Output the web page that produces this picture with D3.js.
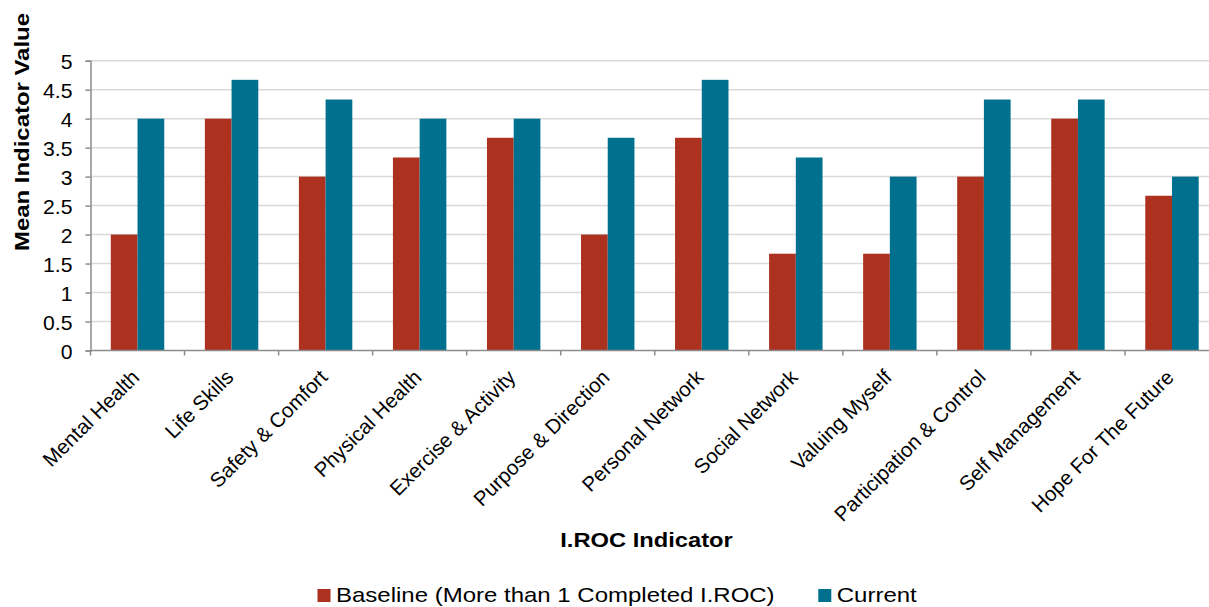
<!DOCTYPE html>
<html>
<head>
<meta charset="utf-8">
<script src="https://cdn.jsdelivr.net/npm/d3@7"></script>
<style>
  html, body { margin: 0; padding: 0; background: #fff; }
  svg { display: block; font-family: "Liberation Sans", Arial, sans-serif; }
</style>
</head>
<body>
<svg id="chart" width="1209" height="607"></svg>
<script>
// I.ROC indicator means: baseline vs current
const categories = [
  "Mental Health", "Life Skills", "Safety & Comfort", "Physical Health",
  "Exercise & Activity", "Purpose & Direction", "Personal Network",
  "Social Network", "Valuing Myself", "Participation & Control",
  "Self Management", "Hope For The Future"
];
const baseline = [2, 4, 3, 3.33, 3.67, 2, 3.67, 1.67, 1.67, 3, 4, 2.67];
const current  = [4, 4.67, 4.33, 4, 4, 3.67, 4.67, 3.33, 3, 4.33, 4.33, 3];
const yTicks = [0, 0.5, 1, 1.5, 2, 2.5, 3, 3.5, 4, 4.5, 5];
const seriesNames = ["Baseline (More than 1 Completed I.ROC)", "Current"];
const seriesColors = ["#ad311f", "#00708f"];

const svg = d3.select("#chart");
const plotLeft = 90.5, plotRight = 1219, plotTop = 60.7, plotBottom = 350.5;

const x = d3.scaleBand().domain(categories).range([plotLeft, plotRight]).padding(0);
const inner = d3.scaleBand().domain([0, 1]).range([0, x.bandwidth()]).paddingInner(0).paddingOuter(0.76);
const y = d3.scaleLinear().domain([0, 5]).range([plotBottom, plotTop]);

// gridlines
svg.append("g")
  .selectAll("line")
  .data(yTicks.filter(d => d > 0))
  .join("line")
  .attr("x1", plotLeft).attr("x2", plotRight)
  .attr("y1", d => y(d)).attr("y2", d => y(d))
  .attr("stroke", "#d9d9d9").attr("stroke-width", 1.5);

// bars
const rows = categories.map((c, i) => ({ c, vals: [baseline[i], current[i]] }));
const groups = svg.append("g").selectAll("g")
  .data(rows).join("g")
  .attr("transform", d => `translate(${x(d.c)},0)`);
groups.selectAll("rect")
  .data(d => d.vals.map((v, k) => ({ v, k })))
  .join("rect")
  .attr("x", d => inner(d.k))
  .attr("width", inner.bandwidth())
  .attr("y", d => y(d.v))
  .attr("height", d => y(0) - y(d.v))
  .attr("fill", d => seriesColors[d.k]);

// y axis
const yAxis = svg.append("g")
  .attr("transform", `translate(${plotLeft},0)`)
  .call(d3.axisLeft(y).tickValues(yTicks).tickFormat(d3.format("")).tickSize(5).tickPadding(0));
yAxis.select(".domain").attr("stroke", "#8c8c8c").attr("stroke-width", 1.5);
yAxis.selectAll(".tick line").attr("stroke", "#8c8c8c").attr("stroke-width", 1.5);
yAxis.selectAll(".tick text")
  .attr("x", null).attr("dy", null)
  .attr("transform", "translate(-18,8) scale(1.06,1)")
  .attr("font-size", 20).attr("fill", "#000")
  .style("font-family", "'Liberation Sans', Arial, sans-serif");

// x axis with ticks on category boundaries
const xAxisG = svg.append("g");
xAxisG.append("line")
  .attr("x1", plotLeft).attr("x2", plotRight)
  .attr("y1", plotBottom).attr("y2", plotBottom)
  .attr("stroke", "#8c8c8c").attr("stroke-width", 1.5);
xAxisG.selectAll("line.tk")
  .data(categories)
  .join("line").attr("class", "tk")
  .attr("x1", d => x(d)).attr("x2", d => x(d))
  .attr("y1", plotBottom).attr("y2", plotBottom + 5)
  .attr("stroke", "#8c8c8c").attr("stroke-width", 1.5);

// rotated category labels
xAxisG.selectAll("text")
  .data(categories)
  .join("text")
  .attr("transform", d => `translate(${x(d) + x.bandwidth() / 2 - 2},${plotBottom + 23}) rotate(-45)`)
  .attr("text-anchor", "end")
  .attr("dy", "0.35em")
  .attr("font-size", 20.5)
  .attr("fill", "#000")
  .text(d => d);

// axis titles
svg.append("text")
  .attr("transform", "translate(28.5,132) rotate(-90) scale(1.14,1)")
  .attr("text-anchor", "middle")
  .attr("font-size", 21).attr("font-weight", "bold")
  .text("Mean Indicator Value");
svg.append("text")
  .attr("transform", "translate(646.5,546.5) scale(1.13,1)")
  .attr("text-anchor", "middle")
  .attr("font-size", 21).attr("font-weight", "bold")
  .text("I.ROC Indicator");

// legend
const legendX = [317.5, 818.3];
const lg = svg.append("g").selectAll("g")
  .data(seriesNames).join("g")
  .attr("transform", (d, i) => `translate(${legendX[i]},589)`);
lg.append("rect").attr("width", 13).attr("height", 13).attr("fill", (d, i) => seriesColors[i]);
lg.append("text")
  .attr("transform", "translate(18.5,13) scale(1.2,1)")
  .attr("font-size", 20).attr("fill", "#000").text(d => d);
</script>
</body>
</html>
